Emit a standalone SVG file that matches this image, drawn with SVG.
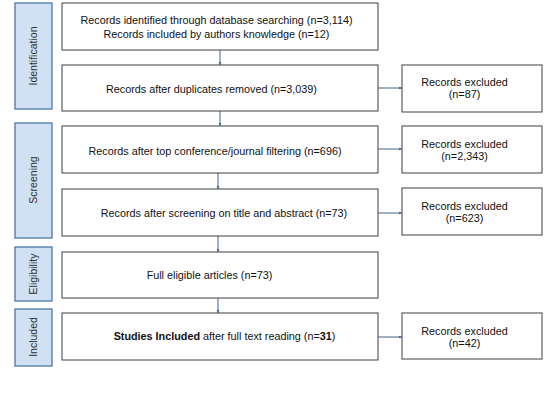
<svg xmlns="http://www.w3.org/2000/svg" width="555" height="416" viewBox="0 0 555 416">
<style>
.box{fill:#fff;stroke:#3f3f3f;stroke-width:1}
.side{fill:#cfe1f3;stroke:#4f76a6;stroke-width:1.3}
.t{font-family:"Liberation Sans",Arial,sans-serif;font-size:10.8px;fill:#111;text-anchor:middle}
.st{font-family:"Liberation Sans",Arial,sans-serif;font-size:10.5px;fill:#333;text-anchor:middle}
.c{stroke:#40618f;stroke-width:1;fill:none;marker-end:url(#ah)}
</style>
<defs>
<marker id="ah" markerWidth="4" markerHeight="4" refX="3.5" refY="2" orient="auto" markerUnits="userSpaceOnUse">
<path d="M0,0.5 L3.5,2 L0,3.5 Z" fill="#40618f"/>
</marker>
</defs>
<rect width="555" height="416" fill="#fff"/>
<g id="side-identification"><rect class="side" x="15" y="3" width="37" height="106"/><text class="st" transform="translate(37,56) rotate(-90)">Identification</text></g>
<g id="side-screening"><rect class="side" x="15" y="123" width="37" height="115"/><text class="st" transform="translate(37,180) rotate(-90)">Screening</text></g>
<g id="side-eligibility"><rect class="side" x="15" y="247" width="37" height="54"/><text class="st" transform="translate(37,274) rotate(-90)">Eligibility</text></g>
<g id="side-included"><rect class="side" x="15" y="309" width="37" height="57"/><text class="st" transform="translate(37,337) rotate(-90)">Included</text></g>

<g id="connectors">
<line class="c" x1="220" y1="50" x2="220" y2="65"/>
<line class="c" x1="220" y1="111" x2="220" y2="126"/>
<line class="c" x1="218" y1="173" x2="218" y2="189"/>
<line class="c" x1="218" y1="236" x2="218" y2="252"/>
<line class="c" x1="218" y1="298" x2="218" y2="313"/>
<line class="c" x1="378" y1="88" x2="402" y2="88"/>
<line class="c" x1="378" y1="149" x2="402" y2="149"/>
<line class="c" x1="378" y1="213" x2="402" y2="213"/>
<line class="c" x1="378" y1="337" x2="402" y2="337"/>
</g>

<g id="n1"><rect class="box" x="62" y="3" width="316" height="47"/>
<text class="t" x="216.5" y="24">Records identified through database searching (n=3,114)</text>
<text class="t" x="216.5" y="38">Records included by authors knowledge (n=12)</text></g>
<g id="n2"><rect class="box" x="62" y="65" width="316" height="46"/>
<text class="t" x="211.5" y="92.5">Records after duplicates removed (n=3,039)</text></g>
<g id="n3"><rect class="box" x="62" y="126" width="316" height="47"/>
<text class="t" x="215" y="154.5">Records after top conference/journal filtering (n=696)</text></g>
<g id="n4"><rect class="box" x="62" y="189" width="316" height="47"/>
<text class="t" x="224" y="216.5">Records after screening on title and abstract (n=73)</text></g>
<g id="n5"><rect class="box" x="62" y="252" width="316" height="46"/>
<text class="t" x="209.5" y="279">Full eligible articles (n=73)</text></g>
<g id="n6"><rect class="box" x="62" y="313" width="316" height="47"/>
<text class="t" x="224.5" y="340"><tspan font-weight="bold">Studies Included</tspan> after full text reading (n=<tspan font-weight="bold">31</tspan>)</text></g>

<g id="x1"><rect class="box" x="402" y="65" width="140" height="47"/>
<text class="t" x="464.5" y="85.5">Records excluded</text><text class="t" x="464.5" y="97.5">(n=87)</text></g>
<g id="x2"><rect class="box" x="402" y="126" width="140" height="47"/>
<text class="t" x="464.5" y="147.5">Records excluded</text><text class="t" x="464.5" y="159.5">(n=2,343)</text></g>
<g id="x3"><rect class="box" x="402" y="188" width="140" height="47"/>
<text class="t" x="464.5" y="209.5">Records excluded</text><text class="t" x="464.5" y="221.5">(n=623)</text></g>
<g id="x4"><rect class="box" x="402" y="313" width="140" height="46"/>
<text class="t" x="464.5" y="335">Records excluded</text><text class="t" x="464.5" y="347">(n=42)</text></g>
</svg>
